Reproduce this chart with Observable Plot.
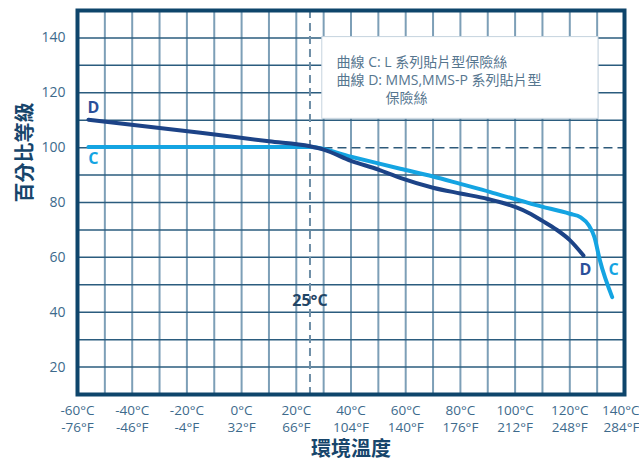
<!DOCTYPE html>
<html><head><meta charset="utf-8">
<script src="https://cdn.jsdelivr.net/npm/d3@7"></script>
<script src="https://cdn.jsdelivr.net/npm/@observablehq/plot@0.6"></script>
<style>body{margin:0;background:#fff;}</style>
</head><body><div id="chart"></div>
<script>
// ---- data ----
const xTicksC = [-60, -40, -20, 0, 20, 40, 60, 80, 100, 120, 140];
const xTickLabelsC = ["-60°C", "-40°C", "-20°C", "0°C", "20°C", "40°C", "60°C", "80°C", "100°C", "120°C", "140°C"];
const xTickLabelsF = ["-76°F", "-46°F", "-4°F", "32°F", "66°F", "104°F", "140°F", "176°F", "212°F", "248°F", "284°F"];
const yTicks = [20, 40, 60, 80, 100, 120, 140];
const curveDTemp  = [-56, -15, 10, 25, 30, 40, 50, 58, 70, 80, 90, 95, 100, 105, 110, 115, 120, 125];
const curveDValue = [110.2, 105.4, 102.3, 100.5, 99.3, 95.2, 92.0, 89.0, 85.4, 83.3, 81.3, 80.0, 78.4, 76.2, 73.3, 70.2, 66.3, 60.7];
const curveCTemp  = [-56, 25, 40, 58, 70, 80, 91, 95, 102, 107, 120, 124, 127, 129, 131, 135.5];
const curveCValue = [100.2, 100.2, 96.7, 92.3, 89.5, 86.8, 83.8, 82.6, 80.7, 79.2, 75.9, 74.6, 71.6, 67.4, 58.9, 45.5];
const legendLines = ["曲線 C: L 系列貼片型保險絲", "曲線 D: MMS,MMS-P 系列貼片型", "保險絲"];
const refTemp = 25;
const refValue = 100;
const refLabel = "25°C";
const yTitle = "百分比等級";
const xTitle = "環境溫度";

// ---- build ----
const curveD = curveDTemp.map((t, i) => ({t, v: curveDValue[i]}));
const curveC = curveCTemp.map((t, i) => ({t, v: curveCValue[i]}));
const xTickRows = xTicksC.map((t, i) => ({t, c: xTickLabelsC[i], f: xTickLabelsF[i]}));
const vGrid = d3.range(-50, 140, 10);
const hGrid = d3.range(20, 150, 10).filter(d => d !== refValue);

const font = "'Open Sans', 'Noto Sans CJK TC', sans-serif";
const navy = "#0e456b";
const tickColor = "#3d6a8c";
const colorD = "#1c4387";
const colorC = "#14a4e2";

const tickText = (rows, field, dy, last) => Plot.text(rows, {
  x: "t", text: field, frameAnchor: "bottom", lineAnchor: "middle", dy,
  dx: last ? 15 : 0, textAnchor: last ? "end" : "middle", fontSize: 13.5, fill: tickColor
});

const chart = Plot.plot({
  width: 639,
  height: 462,
  marginLeft: 77,
  marginRight: 15,
  marginTop: 10,
  marginBottom: 68,
  style: {fontFamily: font, background: "#fff", overflow: "visible"},
  x: {domain: [-60, 140], axis: null},
  y: {domain: [10, 150], axis: null},
  marks: [
    Plot.ruleX(vGrid, {stroke: "#7d9fb7", strokeWidth: 2}),
    Plot.ruleY(hGrid, {stroke: "#2b5c7e", strokeWidth: 1.5}),
    Plot.ruleY([refValue], {x1: -60, x2: refTemp, stroke: "#2b5c7e", strokeWidth: 1.5}),
    Plot.rect([0], {x1: 29.5, x2: 130.5, y1: 110.5, y2: 140.3, fill: "#fff", stroke: "#c5d3de", strokeWidth: 1}),
    Plot.ruleX([refTemp], {stroke: "#6e8ea6", strokeWidth: 2, strokeDasharray: "8,5"}),
    Plot.ruleY([refValue], {x1: refTemp, x2: 140, stroke: "#2e5a7a", strokeWidth: 1.5, strokeDasharray: "9,5"}),
    Plot.line(curveC, {x: "t", y: "v", stroke: colorC, strokeWidth: 4, curve: "monotone-x"}),
    Plot.line(curveD, {x: "t", y: "v", stroke: colorD, strokeWidth: 4, curve: "monotone-x"}),
    Plot.frame({stroke: navy, strokeWidth: 4}),
    // y tick labels
    Plot.text(yTicks, {y: d => d, text: d => String(d), frameAnchor: "left", textAnchor: "end", dx: -12, fontSize: 14, fill: tickColor}),
    // x tick labels (°C row and °F row)
    tickText(xTickRows.slice(0, -1), "c", 16.5, false),
    tickText(xTickRows.slice(-1), "c", 16.5, true),
    tickText(xTickRows.slice(0, -1), "f", 33, false),
    tickText(xTickRows.slice(-1), "f", 33, true),
    // axis titles
    Plot.text([yTitle], {frameAnchor: "left", dx: -52, rotate: -90, fontSize: 20, fontWeight: "bold", fill: "#17456b"}),
    Plot.text([xTitle], {frameAnchor: "bottom", lineAnchor: "middle", dy: 55, fontSize: 20, fontWeight: "bold", fill: "#17456b"}),
    // curve labels
    Plot.text(["D"], {x: -54.2, y: 114.4, fontSize: 16, fontWeight: "bold", fill: "#2a4f9a"}),
    Plot.text(["C"], {x: -54.2, y: 96, fontSize: 16, fontWeight: "bold", fill: colorC}),
    Plot.text(["D"], {x: 125.7, y: 55.5, fontSize: 16, fontWeight: "bold", fill: "#2a4f9a"}),
    Plot.text(["C"], {x: 136, y: 55.6, fontSize: 16, fontWeight: "bold", fill: colorC}),
    Plot.text([refLabel], {x: refTemp, y: 44.3, fontSize: 16, fontWeight: "bold", fill: "#1f4566"}),
    // legend
    Plot.text(legendLines.slice(0, 2), {x: 34.7, y: (d, i) => [131.2, 124.5][i], textAnchor: "start", fontSize: 14, fill: "#56768f"}),
    Plot.text(legendLines.slice(2), {x: 52.6, y: 117.8, textAnchor: "start", fontSize: 14, fill: "#56768f"})
  ]
});
document.getElementById("chart").append(chart);
</script>
</body></html>
